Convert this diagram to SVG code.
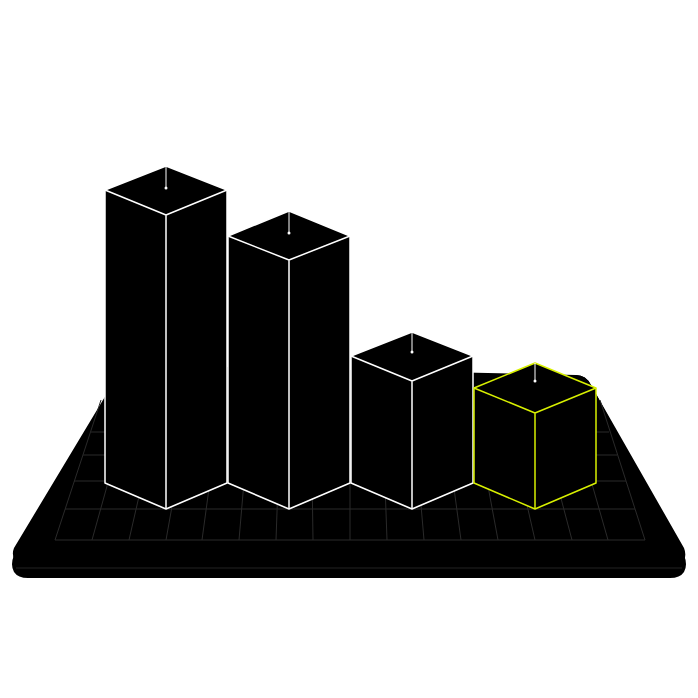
<svg xmlns="http://www.w3.org/2000/svg" width="698" height="698" viewBox="0 0 698 698">
<style>
.bar{fill:#000;stroke:#fff;stroke-width:1.5;stroke-linejoin:round}
.hl{stroke:#d8f000}
.grid{stroke:#2a2a2a;stroke-width:1;fill:none}
.tick{stroke:#fff;stroke-width:1}
.dot{fill:#fff}
</style>
<rect width="698" height="698" fill="#fff"/>
<g id="base">
<path d="M118,385 Q122,375 132,375 L576,375 Q586,375 591,385 L684,555 Q688,565 684,572 Q680,578 670,578 L28,578 Q18,578 14,572 Q10,565 14,555 Z" fill="#000"/>
<path d="M118,375 Q122,365 132,365 L576,375 Q586,375 591,385 L684,548 Q688,558 680,566 L20,566 Q10,558 14,548 Z" fill="#000"/>
<line x1="16" y1="568" x2="682" y2="568" stroke="#222" stroke-width="1.2"/>
<g class="grid">
<line x1="55" y1="540" x2="645" y2="540"/>
<line x1="65" y1="509" x2="635" y2="509"/>
<line x1="74" y1="481" x2="626" y2="481"/>
<line x1="83" y1="455" x2="617" y2="455"/>
<line x1="91" y1="432" x2="609" y2="432"/>
<line x1="55" y1="540" x2="101" y2="400"/>
<line x1="92" y1="540" x2="131" y2="400"/>
<line x1="129" y1="540" x2="161" y2="400"/>
<line x1="166" y1="540" x2="191" y2="400"/>
<line x1="202" y1="540" x2="221" y2="400"/>
<line x1="239" y1="540" x2="251" y2="400"/>
<line x1="276" y1="540" x2="281" y2="400"/>
<line x1="313" y1="540" x2="311" y2="400"/>
<line x1="350" y1="540" x2="350" y2="400"/>
<line x1="387" y1="540" x2="382" y2="400"/>
<line x1="424" y1="540" x2="412" y2="400"/>
<line x1="461" y1="540" x2="442" y2="400"/>
<line x1="498" y1="540" x2="472" y2="400"/>
<line x1="535" y1="540" x2="503" y2="400"/>
<line x1="572" y1="540" x2="535" y2="400"/>
<line x1="608" y1="540" x2="568" y2="400"/>
<line x1="645" y1="540" x2="600" y2="400"/>
</g>
</g>
<g id="bar1">
<path class="bar" d="M105,190 L166,166 L227,190 L227,483 L166,509 L105,483 Z"/>
<path class="bar" fill="none" d="M105,190 L166,215 L227,190 M166,215 L166,509"/>
<line class="tick" x1="166" y1="166" x2="166" y2="188"/><circle class="dot" cx="166" cy="188" r="1.5"/>
</g>
<g id="bar2">
<path class="bar" d="M228,236 L289,211 L350,236 L350,483 L289,509 L228,483 Z"/>
<path class="bar" fill="none" d="M228,236 L289,260 L350,236 M289,260 L289,509"/>
<line class="tick" x1="289" y1="211" x2="289" y2="233"/><circle class="dot" cx="289" cy="233" r="1.5"/>
</g>
<g id="bar3">
<path class="bar" d="M351,356 L412,332 L473,356 L473,483 L412,509 L351,483 Z"/>
<path class="bar" fill="none" d="M351,356 L412,381 L473,356 M412,381 L412,509"/>
<line class="tick" x1="412" y1="332" x2="412" y2="352"/><circle class="dot" cx="412" cy="352" r="1.5"/>
</g>
<g id="bar4">
<path class="bar hl" d="M474,388 L535,363 L596,388 L596,483 L535,509 L474,483 Z"/>
<path class="bar hl" fill="none" d="M474,388 L535,413 L596,388 M535,413 L535,509"/>
<line class="tick" x1="535" y1="363" x2="535" y2="381"/><circle class="dot" cx="535" cy="381" r="1.5"/>
</g>
</svg>
